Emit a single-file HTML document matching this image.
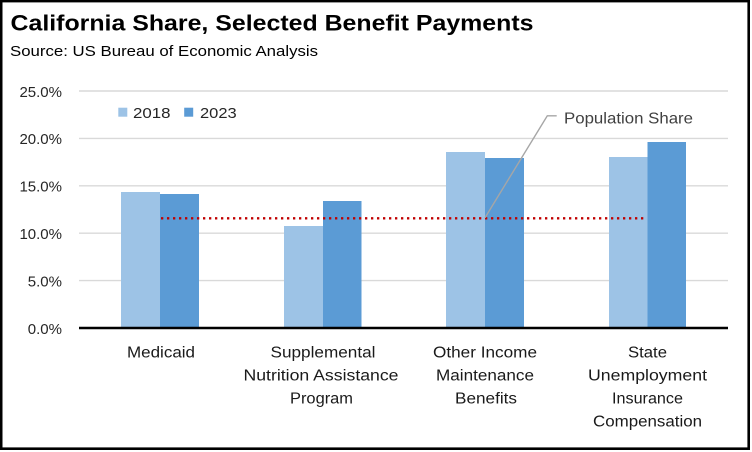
<!DOCTYPE html>
<html>
<head>
<meta charset="utf-8">
<style>
html,body{margin:0;padding:0;background:#fff;}
svg{display:block;}
text{font-family:"Liberation Sans",sans-serif;}
</style>
</head>
<body>
<svg width="752" height="452" viewBox="0 0 752 452" xmlns="http://www.w3.org/2000/svg">
<rect x="0" y="0" width="752" height="452" fill="#fff"/>
<rect x="1.2" y="1.1" width="747.5" height="447.6" fill="none" stroke="#000" stroke-width="2.6"/>

<text x="10.5" y="30.5" font-size="22.5" font-weight="bold" fill="#000" textLength="523" lengthAdjust="spacingAndGlyphs">California Share, Selected Benefit Payments</text>
<text x="10" y="56" font-size="14.5" fill="#000" textLength="308" lengthAdjust="spacingAndGlyphs">Source:  US Bureau of Economic Analysis</text>

<g stroke="#d9d9d9" stroke-width="1.4">
<line x1="79" y1="91" x2="728" y2="91"/>
<line x1="79" y1="138.4" x2="728" y2="138.4"/>
<line x1="79" y1="185.8" x2="728" y2="185.8"/>
<line x1="79" y1="233.2" x2="728" y2="233.2"/>
<line x1="79" y1="280.6" x2="728" y2="280.6"/>
</g>

<g font-size="15" fill="#262626" text-anchor="end">
<text x="62" y="96.8">25.0%</text>
<text x="62" y="144.2">20.0%</text>
<text x="62" y="191.6">15.0%</text>
<text x="62" y="239">10.0%</text>
<text x="62" y="286.4">5.0%</text>
<text x="62" y="333.8">0.0%</text>
</g>

<g fill="#9dc3e6">
<rect x="121" y="192" width="39" height="136"/>
<rect x="284" y="226" width="39" height="102"/>
<rect x="446" y="152" width="39" height="176"/>
<rect x="609" y="157" width="38.5" height="171"/>
</g>
<g fill="#5b9bd5">
<rect x="160" y="194" width="39" height="134"/>
<rect x="323" y="201" width="38.5" height="127"/>
<rect x="485" y="158" width="39" height="170"/>
<rect x="647.5" y="142" width="38.5" height="186"/>
</g>

<line x1="79" y1="328" x2="728" y2="328" stroke="#000" stroke-width="2.6"/>

<line x1="161" y1="218.3" x2="647" y2="218.3" stroke="#c00000" stroke-width="2.3" stroke-dasharray="2.3 3.7"/>

<polyline points="485,217.7 547.3,115.8 556.7,115.8" fill="none" stroke="#a6a6a6" stroke-width="1.4"/>
<text x="564" y="123.3" font-size="16" fill="#404040" textLength="129" lengthAdjust="spacingAndGlyphs">Population Share</text>

<rect x="118.3" y="107.7" width="9" height="9" fill="#9dc3e6"/>
<text x="133" y="118" font-size="15" fill="#262626" textLength="37.5" lengthAdjust="spacingAndGlyphs">2018</text>
<rect x="184.2" y="107.7" width="9" height="9" fill="#5b9bd5"/>
<text x="200" y="118" font-size="15" fill="#262626" textLength="36.7" lengthAdjust="spacingAndGlyphs">2023</text>

<g font-size="15.5" fill="#1a1a1a" text-anchor="middle">
<text x="161" y="357.3" textLength="68" lengthAdjust="spacingAndGlyphs">Medicaid</text>

<text x="323" y="357.3" textLength="105" lengthAdjust="spacingAndGlyphs">Supplemental</text>
<text x="321" y="380.5" textLength="155" lengthAdjust="spacingAndGlyphs">Nutrition Assistance</text>
<text x="321.5" y="403.5" textLength="63" lengthAdjust="spacingAndGlyphs">Program</text>

<text x="485" y="357.3" textLength="104" lengthAdjust="spacingAndGlyphs">Other Income</text>
<text x="485" y="380.5" textLength="98" lengthAdjust="spacingAndGlyphs">Maintenance</text>
<text x="486" y="403.5" textLength="62" lengthAdjust="spacingAndGlyphs">Benefits</text>

<text x="647.5" y="357.3" textLength="39" lengthAdjust="spacingAndGlyphs">State</text>
<text x="647.5" y="380.5" textLength="119" lengthAdjust="spacingAndGlyphs">Unemployment</text>
<text x="647.5" y="403.5" textLength="71" lengthAdjust="spacingAndGlyphs">Insurance</text>
<text x="647.5" y="426.7" textLength="109" lengthAdjust="spacingAndGlyphs">Compensation</text>
</g>
</svg>
</body>
</html>
